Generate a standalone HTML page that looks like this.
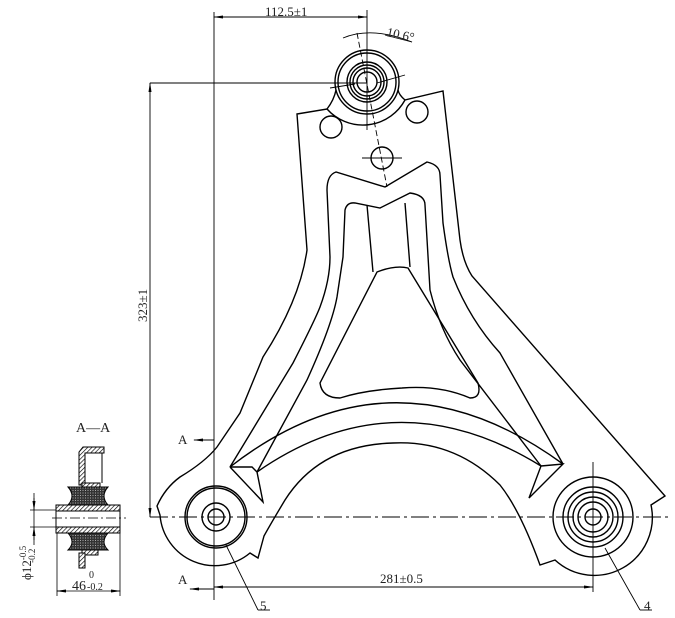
<!DOCTYPE html>
<html><head><meta charset="utf-8"><style>
html,body{margin:0;padding:0;background:#fff;}
svg{display:block;}
text{font-family:"Liberation Serif",serif;fill:#222;}
</style></head><body>
<svg width="675" height="618" viewBox="0 0 675 618" xmlns="http://www.w3.org/2000/svg">
<defs>
<pattern id="h" width="3" height="3" patternUnits="userSpaceOnUse" patternTransform="rotate(45)"><rect width="3" height="3" fill="#fff"/><line x1="0" y1="0" x2="0" y2="3" stroke="#000" stroke-width="1.3"/></pattern>
<pattern id="x" width="2.5" height="2.5" patternUnits="userSpaceOnUse"><rect width="2.5" height="2.5" fill="#333"/><rect width="1" height="1" fill="#aaa"/></pattern>
<marker id="a" markerWidth="10" markerHeight="6" refX="9" refY="3" orient="auto" markerUnits="userSpaceOnUse"><path d="M0,1.5 L10,3 L0,4.5Z" fill="#000"/></marker>
</defs>
<g fill="none" stroke="#000" stroke-width="1.4">
<path d="M297,114 L327,109 A48,48 0 0 0 405,100 L443,91 L460,240 Q463,262 472,276 L665,496 L651,505 A58,58 0 0 1 555,560 L540,565 Q520,510 500,485 Q455,440 393,443 Q320,445 285,500 Q270,525 264,536 L258,558 L250,553 A55,55 0 0 1 160,515 L157,506 Q165,488 180,477 Q205,462 217,447 L240,413 L263,357 Q300,300 307,250 Z"/>
<path d="M327,109 Q334,100 336,90 M405,100 Q399,95 398,90"/>
<circle cx="367" cy="82" r="32"/><circle cx="367" cy="82" r="29"/>
<circle cx="367" cy="82" r="20"/><circle cx="367" cy="82" r="17"/><circle cx="367" cy="82" r="14"/><circle cx="367" cy="82" r="10"/>
<circle cx="331" cy="127" r="11"/><circle cx="417" cy="112" r="11"/><circle cx="382" cy="158" r="11"/>
<path d="M230,467 L293,363 Q315,320 320,307 Q330,280 330,257 L327,190 Q327,175 336,172 L385,187 L427,162 Q440,165 440,175 L443,223 Q448,260 453,277 Q470,320 500,353 L563,464"/>
<path d="M230,467 Q393,340 563,464"/>
<path d="M257,472 Q395,376 541,466"/>
<path d="M230,467 L252,467 L257,472 L263,502 L230,467 M541,466 L563,464 L529,498 L541,466"/>
<path d="M257,472 L307,380 Q332,325 337,297 L343,257 L345,210 Q347,202 355,203 L380,208 L410,193 Q425,195 425,205 L430,290 Q440,330 460,360 L541,466"/>
<path d="M367,205 L373,272 M405,203 L410,267"/>
<path d="M377,272 Q395,265 408,268 L478,383 Q482,398 470,398 Q440,385 402,388 Q365,390 340,398 Q322,398 320,383 Z"/>
<circle cx="216" cy="517" r="31"/><circle cx="216" cy="517" r="29"/><circle cx="216" cy="517" r="14"/><circle cx="216" cy="517" r="8"/>
<circle cx="593" cy="517" r="40"/><circle cx="593" cy="517" r="30"/><circle cx="593" cy="517" r="25"/><circle cx="593" cy="517" r="20"/><circle cx="593" cy="517" r="15"/><circle cx="593" cy="517" r="8"/>
</g>
<g fill="none" stroke="#000" stroke-width="0.9">
<line x1="150" y1="517" x2="672" y2="517" stroke-dasharray="18,4,3,4"/>
<line x1="214" y1="12" x2="214" y2="600"/>
<line x1="367" y1="10" x2="367" y2="130"/>
<line x1="357" y1="33" x2="387" y2="187" stroke-dasharray="6,3"/>
<line x1="593" y1="462" x2="593" y2="592"/>
<line x1="150" y1="83" x2="367" y2="83"/>
<line x1="150" y1="83" x2="150" y2="517"/>
<line x1="150" y1="90" x2="150" y2="83" marker-end="url(#a)"/><line x1="150" y1="510" x2="150" y2="517" marker-end="url(#a)"/>
<line x1="220" y1="17" x2="214" y2="17" marker-end="url(#a)"/><line x1="361" y1="17" x2="367" y2="17" marker-end="url(#a)"/>
<line x1="214" y1="17" x2="367" y2="17"/>
<path d="M343,38 Q372,26 412,42"/>
<line x1="385" y1="35" x2="412" y2="42"/>
<line x1="214" y1="587" x2="593" y2="587"/>
<line x1="220" y1="587" x2="214" y2="587" marker-end="url(#a)"/><line x1="587" y1="587" x2="593" y2="587" marker-end="url(#a)"/>
<line x1="196" y1="440" x2="214" y2="440"/><line x1="200" y1="440" x2="194" y2="440" marker-end="url(#a)"/>
<line x1="196" y1="589" x2="214" y2="589"/><line x1="200" y1="589" x2="190" y2="589" marker-end="url(#a)"/>
<line x1="377" y1="83" x2="405" y2="75"/><line x1="330" y1="88" x2="355" y2="84"/>
<line x1="362" y1="158" x2="402" y2="158"/>
<line x1="226" y1="545" x2="258" y2="610"/><line x1="258" y1="610" x2="270" y2="610"/>
<line x1="605" y1="548" x2="640" y2="610"/><line x1="640" y1="610" x2="652" y2="610"/>
</g>
<text x="265" y="16" font-size="13">112.5±1</text>
<text x="386" y="36" font-size="13" transform="rotate(12 386 36)">10.6°</text>
<text x="0" y="0" font-size="13" transform="translate(147,322) rotate(-90)">323±1</text>
<text x="380" y="583" font-size="13">281±0.5</text>
<text x="178" y="444" font-size="13">A</text>
<text x="178" y="584" font-size="13">A</text>
<text x="260" y="610" font-size="13">5</text>
<text x="644" y="610" font-size="13">4</text>
<text x="76" y="432" font-size="14">A—A</text>
<g stroke="#000" stroke-width="1">
<path d="M79,452 L83,447 L104,447 L104,453 L85,453 L85,485 L79,485 Z" fill="url(#h)"/>
<line x1="102" y1="453" x2="102" y2="483" fill="none"/>
<rect x="82" y="483" width="18" height="4" fill="url(#h)"/>
<path d="M68,487 L108,487 Q100,496 108,505 L68,505 Q76,496 68,487Z" fill="url(#x)"/>
<path d="M68,533 L108,533 Q100,542 108,550 L68,550 Q76,542 68,533Z" fill="url(#x)"/>
<rect x="56" y="505" width="64" height="6" fill="url(#h)"/>
<rect x="56" y="527" width="64" height="6" fill="url(#h)"/>
<rect x="56" y="511" width="64" height="16" fill="#fff"/>
<rect x="82" y="550" width="16" height="5" fill="url(#h)"/>
<rect x="79" y="553" width="6" height="15" fill="url(#h)"/>
</g>
<g stroke="#000" stroke-width="0.8" fill="none">
<line x1="52" y1="518" x2="126" y2="518" stroke-dasharray="10,3,2,3"/>
<line x1="30" y1="510" x2="56" y2="510"/><line x1="30" y1="527" x2="56" y2="527"/>
<line x1="34" y1="493" x2="34" y2="545"/>
<line x1="34" y1="498" x2="34" y2="510" marker-end="url(#a)"/><line x1="34" y1="540" x2="34" y2="527" marker-end="url(#a)"/>
<line x1="57" y1="533" x2="57" y2="596"/><line x1="120" y1="533" x2="120" y2="596"/>
<line x1="57" y1="591" x2="120" y2="591"/>
<line x1="64" y1="591" x2="57" y2="591" marker-end="url(#a)"/><line x1="113" y1="591" x2="120" y2="591" marker-end="url(#a)"/>
</g>
<text x="72" y="590" font-size="14">46</text>
<text x="89" y="578" font-size="10">0</text>
<text x="87" y="590" font-size="10">-0.2</text>
<text transform="translate(31,580) rotate(-90)" font-size="13">ϕ12<tspan font-size="9" dy="-5">-0.5</tspan><tspan font-size="9" dx="-17" dy="9">-0.2</tspan></text>
</svg>
</body></html>
